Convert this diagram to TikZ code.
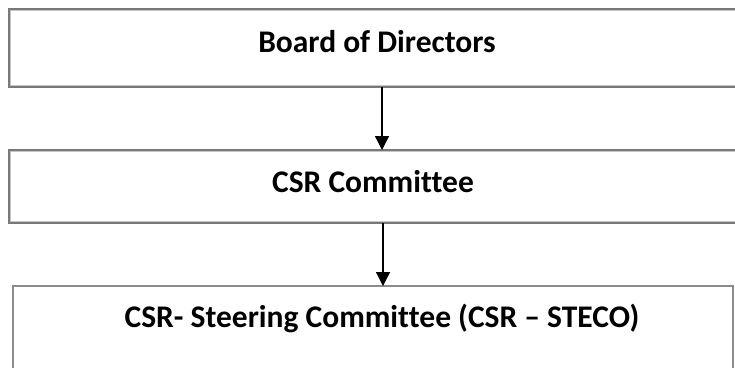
\documentclass[tikz,border=0pt]{standalone}
\usepackage{fontspec}
\setmainfont[Ligatures=NoCommon]{Carlito}
\usetikzlibrary{arrows.meta}
\begin{document}
\begin{tikzpicture}[x=1pt,y=-1pt,
  framebox/.style={draw=gray!95!black, line width=1.6pt, inner sep=0pt, outer sep=0pt, rectangle},
  innerframe/.style={draw=gray!45, line width=0.9pt},
  openbox/.style={draw=gray!90, line width=1.3pt, inner sep=0pt, outer sep=0pt, rectangle},
  label/.style={font=\fontsize{31.5}{36}\selectfont\bfseries, inner sep=0pt, anchor=base},
  link/.style={draw=black, line width=1.3pt, -{Triangle[length=14pt,width=14pt]}}]
  \useasboundingbox (0,0) rectangle (735,367);
  \begin{scope}
    \clip (0,0) rectangle (735,367);
    % boxes
    \node[framebox, minimum width=740pt, minimum height=78pt, anchor=north west] (board) at (9,9) {};
    \draw[innerframe] (10.8,10.8) rectangle (760,85.2);
    \node[framebox, minimum width=740pt, minimum height=73pt, anchor=north west] (csr) at (9,150) {};
    \draw[innerframe] (10.8,151.8) rectangle (760,221.2);
    \node[openbox, minimum width=720pt, minimum height=120pt, anchor=north west] (steco) at (13,286) {};
    % labels
    \node[label] (tboard) at (377,52) {Board of Directors};
    \node[label] (tcsr) at (373,192) {CSR Committee};
    \node[label] (tsteco) at (382,327) {CSR- Steering Committee (CSR – STECO)};
    % connectors
    \coordinate (a1) at (382,0);
    \coordinate (a2) at (383,0);
    \draw[link] (board.south -| a1) -- (csr.north -| a1);
    \draw[link] (csr.south -| a2) -- (steco.north -| a2);
  \end{scope}
\end{tikzpicture}
\end{document}
